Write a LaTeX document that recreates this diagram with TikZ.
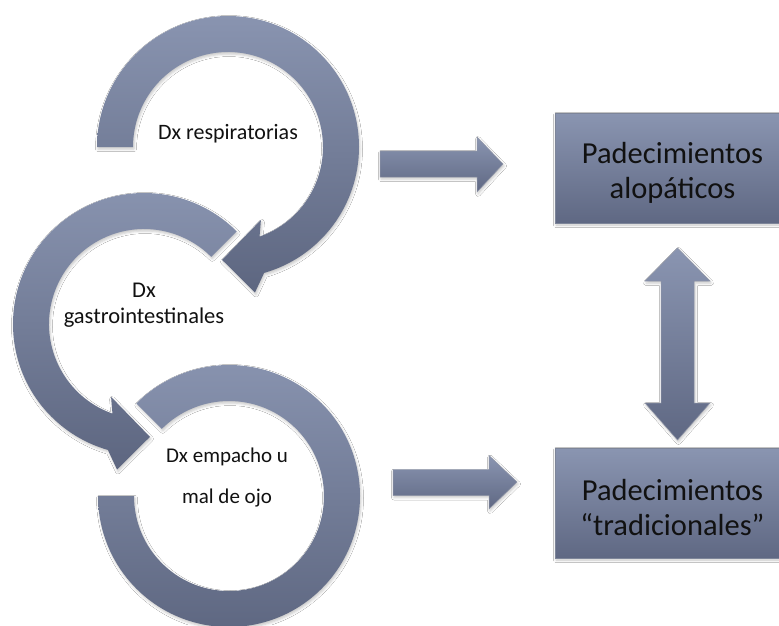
\documentclass[tikz,border=0pt]{standalone}
\usepackage{fontspec}
\setmainfont{Carlito}
\usetikzlibrary{calc,shadows.blur}

\definecolor{bandtop}{HTML}{8994B0}
\definecolor{bandbot}{HTML}{5D6680}
\definecolor{slabtop}{HTML}{8A95B1}
\definecolor{slabbot}{HTML}{5F6883}
\definecolor{inkdark}{HTML}{111111}

\tikzset{
  softshadow/.style={blur shadow={shadow xshift=1pt, shadow yshift=-2pt,
      shadow blur radius=2.5pt, shadow opacity=22}},
  band/.style={softshadow, top color=bandtop, bottom color=bandbot, draw=none},
  slab/.style={softshadow, top color=slabtop, bottom color=slabbot,
      draw=bandbot!80, line width=0.6pt},
  blockarrow/.style={softshadow, top color=slabtop, bottom color=slabbot,
      draw=bandbot!70, line width=0.5pt},
  ringlabel/.style={text=inkdark, align=center, inner sep=0pt, anchor=base},
  slablabel/.style={font=\fontsize{30.5}{35}\selectfont, text=inkdark,
      align=center, inner sep=0pt, anchor=base},
}

\begin{document}
\begin{tikzpicture}[x=1pt, y=-1pt]
  \useasboundingbox (0,0) rectangle (779,625);
  \fill[white] (0,0) rectangle (779,625);
  \clip (0,0) rectangle (779,625);

  % ring centres
  \coordinate (c1) at (228,147);
  \coordinate (c2) at (144,324);
  \coordinate (c3) at (229,496);

  % bottom ring: open band, flat ends
  \path[band] ($(c3)+(225:131)$) arc[start angle=225, end angle=540, radius=131]
    -- ($(c3)+(180:95)$) arc[start angle=540, end angle=225, radius=95] -- cycle;

  % middle ring: counter-clockwise band ending in an arrowhead
  \path[band] ($(c2)+(315:131)$) arc[start angle=315, end angle=106, radius=131]
    -- ($(c2)+(100.5:148)$) -- ($(c2)+(87:113)$) -- ($(c2)+(114.3:80)$)
    -- ($(c2)+(109.4:95)$) arc[start angle=109.4, end angle=315, radius=95] -- cycle;

  % top ring: clockwise band ending in an arrowhead
  \path[band] ($(c1)+(180:131)$) arc[start angle=180, end angle=434, radius=131]
    -- ($(c1)+(79.5:148)$) -- ($(c1)+(93:113)$) -- ($(c1)+(65.7:80)$)
    -- ($(c1)+(70.6:95)$) arc[start angle=430.6, end angle=180, radius=95] -- cycle;

  % ring labels (base anchor = baseline of the last line)
  \node[ringlabel, font=\fontsize{22}{26}\selectfont] (resp) at (228,139) {Dx respiratorias};
  \node[ringlabel, font=\fontsize{22.5}{26}\selectfont] (gastro) at (144,323) {Dx\\gastrointestinales};
  \node[ringlabel, font=\fontsize{21}{41}\selectfont] (empacho) at (227,503) {Dx empacho u\\mal de ojo};

  % result boxes
  \path[slab] (555,113) rectangle (789,223);
  \path[slab] (555,448) rectangle (789,558);
  \node[slablabel] (alop) at (672.5,198) {Padecimientos\\alopáticos};
  \node[slablabel] (trad) at (672.5,535) {Padecimientos\\“tradicionales”};

  % right-pointing block arrows
  \path[blockarrow] (380,151) -- (477,151) -- (477,137) -- (503,164) -- (477,192)
    -- (477,177) -- (380,177) -- cycle;
  \path[blockarrow] (393,469.5) -- (489,469.5) -- (489,455.5) -- (517,482) -- (489,509)
    -- (489,495.5) -- (393,495.5) -- cycle;

  % two-headed vertical block arrow between the boxes
  \path[blockarrow] (677.5,248) -- (710,281) -- (694,281) -- (694,403) -- (710,403)
    -- (677.5,440) -- (645,403) -- (661,403) -- (661,281) -- (645,281) -- cycle;
\end{tikzpicture}
\end{document}
